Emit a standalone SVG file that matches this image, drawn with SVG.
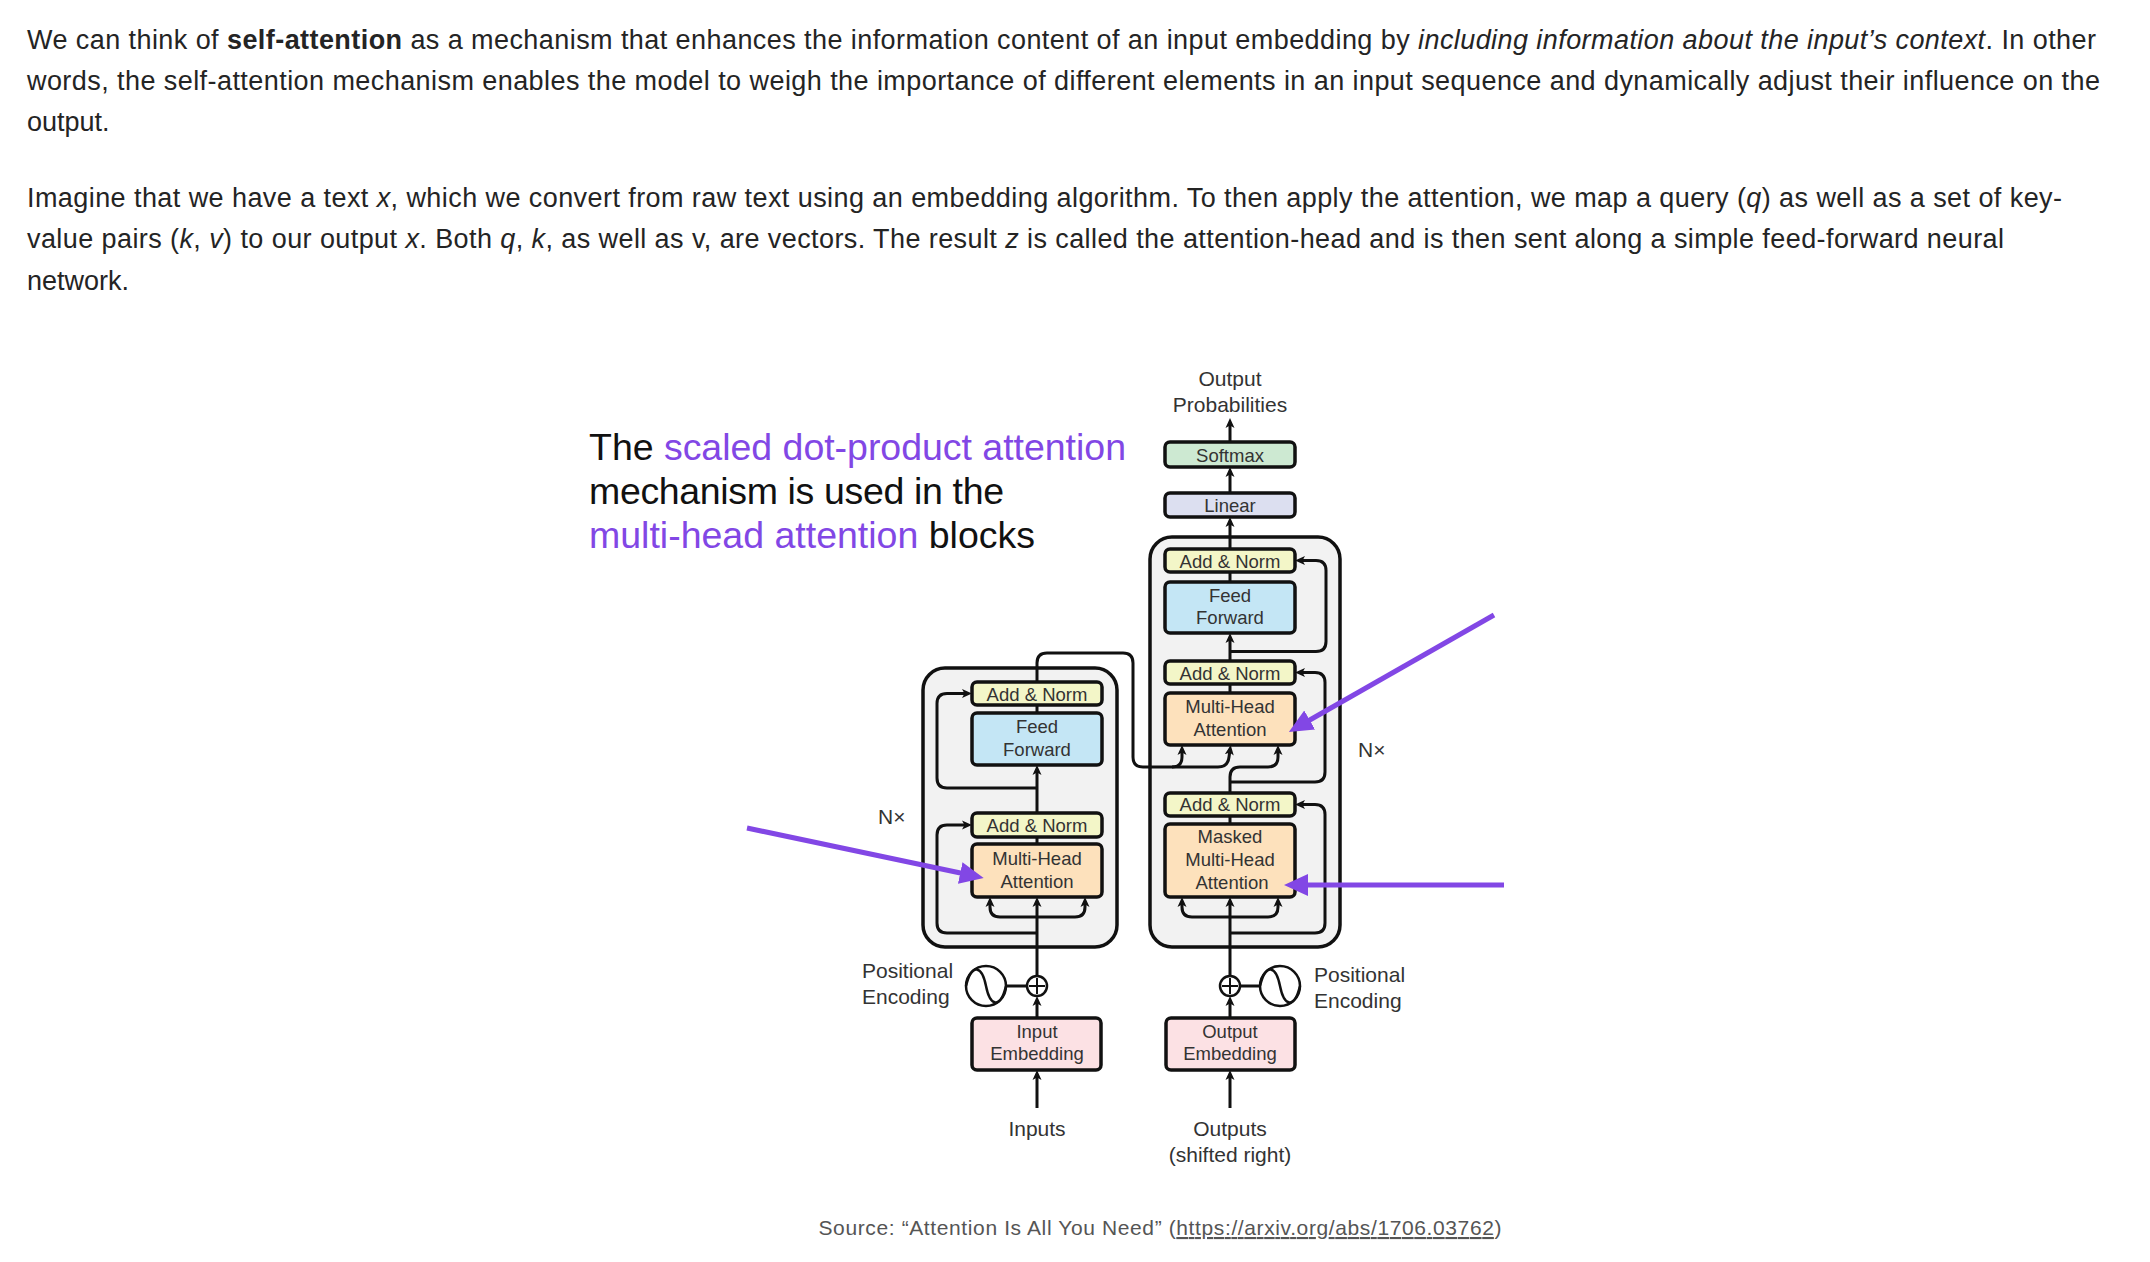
<svg xmlns="http://www.w3.org/2000/svg" width="2150" height="1262" viewBox="0 0 2150 1262">
<defs>
<style>
.body{font-family:"Liberation Sans",Arial,sans-serif;font-size:27px;fill:#242424}
.b{font-weight:bold}
.i{font-style:italic}
.ann{font-family:"Liberation Sans",Arial,sans-serif;font-size:37.5px;fill:#111}
.pu{fill:#8247e5}
.box{stroke:#111;stroke-width:3.5}
.outer{fill:#f2f2f2;stroke:#111;stroke-width:3.5}
.an{fill:#f3f6c8}.ff{fill:#c4e6f5}.mh{fill:#fde1bc}.em{fill:#fce1e4}.sm{fill:#cde9d2}.li{fill:#dcdff0}
.bt{font-family:"Liberation Sans",Arial,sans-serif;font-size:18.5px;fill:#333;text-anchor:middle}
.lb{font-family:"Liberation Sans",Arial,sans-serif;font-size:21px;fill:#333}
.c{text-anchor:middle}
.ln{fill:none;stroke:#111;stroke-width:3;stroke-linejoin:round}
.pa{fill:none;stroke:#8247e5;stroke-width:5}
.src{font-family:"Liberation Sans",Arial,sans-serif;font-size:21px;fill:#555;text-anchor:middle}
</style>
<marker id="ah" viewBox="0 0 10 10" refX="5" refY="5" markerWidth="10" markerHeight="10" markerUnits="userSpaceOnUse" orient="auto">
<path d="M0,0.5 L10,5 L0,9.5 L2.5,5 z" fill="#111"/>
</marker>
<marker id="ph" viewBox="0 0 24 24" refX="10" refY="12" markerWidth="24" markerHeight="24" markerUnits="userSpaceOnUse" orient="auto">
<path d="M0,1 L24,12 L0,23 z" fill="#8247e5"/>
</marker>
</defs>
<rect width="2150" height="1262" fill="#fff"/>

<g id="paragraph1">
<text class="body" x="27" y="49" textLength="2069" lengthAdjust="spacing">We can think of <tspan class="b">self-attention</tspan> as a mechanism that enhances the information content of an input embedding by <tspan class="i">including information about the input’s context</tspan>. In other</text>
<text class="body" x="27" y="90" textLength="2073" lengthAdjust="spacing">words, the self-attention mechanism enables the model to weigh the importance of different elements in an input sequence and dynamically adjust their influence on the</text>
<text class="body" x="27" y="131">output.</text>
</g>
<g id="paragraph2">
<text class="body" x="27" y="207" textLength="2035" lengthAdjust="spacing">Imagine that we have a text <tspan class="i">x</tspan>, which we convert from raw text using an embedding algorithm. To then apply the attention, we map a query (<tspan class="i">q</tspan>) as well as a set of key-</text>
<text class="body" x="27" y="248" textLength="1977" lengthAdjust="spacing">value pairs (<tspan class="i">k</tspan>, <tspan class="i">v</tspan>) to our output <tspan class="i">x</tspan>. Both <tspan class="i">q</tspan>, <tspan class="i">k</tspan>, as well as v, are vectors. The result <tspan class="i">z</tspan> is called the attention-head and is then sent along a simple feed-forward neural</text>
<text class="body" x="27" y="290">network.</text>
</g>

<g id="annotation">
<text class="ann" x="589" y="460" textLength="537" lengthAdjust="spacing">The <tspan class="pu">scaled dot-product attention</tspan></text>
<text class="ann" x="589" y="504" textLength="415" lengthAdjust="spacing">mechanism is used in the</text>
<text class="ann" x="589" y="548" textLength="446" lengthAdjust="spacing"><tspan class="pu">multi-head attention</tspan> blocks</text>
</g>

<g id="encoder-stack">
<rect class="outer" x="923" y="668" width="194" height="279" rx="22"/>
</g>
<g id="decoder-stack">
<rect class="outer" x="1150" y="537" width="190" height="410" rx="22"/>
</g>

<g id="connectors">
<path class="ln" d="M1230,442 L1230,423" marker-end="url(#ah)"/>
<path class="ln" d="M1230,493 L1230,472" marker-end="url(#ah)"/>
<path class="ln" d="M1230,549 L1230,522" marker-end="url(#ah)"/>
<path class="ln" d="M1230,572 L1230,582"/>
<path class="ln" d="M1230,661 L1230,638" marker-end="url(#ah)"/>
<path class="ln" d="M1230,651.5 L1316,651.5 Q1326,651.5 1326,641.5 L1326,570.5 Q1326,560.5 1316,560.5 L1300,560.5" marker-end="url(#ah)"/>
<path class="ln" d="M1230,684 L1230,693"/>
<path class="ln" d="M1230,782 L1315,782 Q1325,782 1325,772 L1325,682.5 Q1325,672.5 1315,672.5 L1300,672.5" marker-end="url(#ah)"/>
<path class="ln" d="M1230,793 L1230,777 Q1230,767 1240,767 L1268,767 Q1278,767 1278,757 L1278,750" marker-end="url(#ah)"/>
<path class="ln" d="M1037,682 L1037,663 Q1037,653 1047,653 L1123,653 Q1133,653 1133,663 L1133,757 Q1133,767 1143,767 L1172,767 Q1182,767 1182,757 L1182,750" marker-end="url(#ah)"/>
<path class="ln" d="M1172,767 L1218,767 Q1228,767 1229,757 L1230,750" marker-end="url(#ah)"/>
<path class="ln" d="M1230,816 L1230,824"/>
<path class="ln" d="M1230,933 L1315,933 Q1325,933 1325,923 L1325,814.5 Q1325,804.5 1315,804.5 L1300,804.5" marker-end="url(#ah)"/>
<path class="ln" d="M1230,976 L1230,902" marker-end="url(#ah)"/>
<path class="ln" d="M1230,917 L1192,917 Q1182,917 1182,907 L1182,902" marker-end="url(#ah)"/>
<path class="ln" d="M1230,917 L1268,917 Q1278,917 1278,907 L1278,902" marker-end="url(#ah)"/>
<path class="ln" d="M1230,1018 L1230,1001" marker-end="url(#ah)"/>
<path class="ln" d="M1230,1108 L1230,1075" marker-end="url(#ah)"/>
<path class="ln" d="M1240,986 L1260,986"/>
<path class="ln" d="M1037,976 L1037,902" marker-end="url(#ah)"/>
<path class="ln" d="M1037,917 L1000,917 Q990,917 990,907 L990,902" marker-end="url(#ah)"/>
<path class="ln" d="M1037,917 L1075,917 Q1085,917 1085,907 L1085,902" marker-end="url(#ah)"/>
<path class="ln" d="M1037,933 L947,933 Q937,933 937,923 L937,835 Q937,825 947,825 L967,825" marker-end="url(#ah)"/>
<path class="ln" d="M1037,837 L1037,844"/>
<path class="ln" d="M1037,813 L1037,770" marker-end="url(#ah)"/>
<path class="ln" d="M1037,788 L947,788 Q937,788 937,778 L937,703.5 Q937,693.5 947,693.5 L967,693.5" marker-end="url(#ah)"/>
<path class="ln" d="M1037,705 L1037,713"/>
<path class="ln" d="M1037,1018 L1037,1001" marker-end="url(#ah)"/>
<path class="ln" d="M1037,1108 L1037,1075" marker-end="url(#ah)"/>
<path class="ln" d="M1006,986 L1027,986"/>
</g>

<g id="softmax"><rect class="box sm" x="1165" y="442" width="130" height="25" rx="5"/><text class="bt" x="1230" y="462">Softmax</text></g>
<g id="linear"><rect class="box li" x="1165" y="493" width="130" height="24" rx="5"/><text class="bt" x="1230" y="512">Linear</text></g>
<g id="dec-addnorm3"><rect class="box an" x="1165" y="549" width="130" height="23" rx="5"/><text class="bt" x="1230" y="568">Add &amp; Norm</text></g>
<g id="dec-feedforward"><rect class="box ff" x="1165" y="582" width="130" height="51" rx="5"/><text class="bt" x="1230" y="602">Feed</text><text class="bt" x="1230" y="624">Forward</text></g>
<g id="dec-addnorm2"><rect class="box an" x="1165" y="661" width="130" height="23" rx="5"/><text class="bt" x="1230" y="680">Add &amp; Norm</text></g>
<g id="dec-mha"><rect class="box mh" x="1165" y="693" width="130" height="52" rx="5"/><text class="bt" x="1230" y="713">Multi-Head</text><text class="bt" x="1230" y="736">Attention</text></g>
<g id="dec-addnorm1"><rect class="box an" x="1165" y="793" width="130" height="23" rx="5"/><text class="bt" x="1230" y="811">Add &amp; Norm</text></g>
<g id="dec-masked-mha"><rect class="box mh" x="1165" y="824" width="130" height="73" rx="5"/><text class="bt" x="1230" y="843">Masked</text><text class="bt" x="1230" y="866">Multi-Head</text><text class="bt" x="1232" y="889">Attention</text></g>
<g id="output-embedding"><rect class="box em" x="1166" y="1018" width="129" height="52" rx="5"/><text class="bt" x="1230" y="1038">Output</text><text class="bt" x="1230" y="1060">Embedding</text></g>

<g id="enc-addnorm2"><rect class="box an" x="972" y="682" width="130" height="23" rx="5"/><text class="bt" x="1037" y="701">Add &amp; Norm</text></g>
<g id="enc-feedforward"><rect class="box ff" x="972" y="713" width="130" height="52" rx="5"/><text class="bt" x="1037" y="733">Feed</text><text class="bt" x="1037" y="756">Forward</text></g>
<g id="enc-addnorm1"><rect class="box an" x="972" y="813" width="130" height="24" rx="5"/><text class="bt" x="1037" y="832">Add &amp; Norm</text></g>
<g id="enc-mha"><rect class="box mh" x="972" y="844" width="130" height="53" rx="5"/><text class="bt" x="1037" y="865">Multi-Head</text><text class="bt" x="1037" y="888">Attention</text></g>
<g id="input-embedding"><rect class="box em" x="972" y="1018" width="129" height="52" rx="5"/><text class="bt" x="1037" y="1038">Input</text><text class="bt" x="1037" y="1060">Embedding</text></g>

<g id="enc-positional-encoding">
<circle cx="986" cy="986" r="20" fill="#fff" stroke="#111" stroke-width="2.5"/>
<path d="M966,986 C972,962 982,966 986,986 C990,1006 1000,1010 1006,986" fill="none" stroke="#111" stroke-width="2.5"/>
<circle cx="1037" cy="986" r="10" fill="#fff" stroke="#111" stroke-width="2.5"/>
<path d="M1029,986 L1045,986 M1037,978 L1037,994" stroke="#111" stroke-width="2"/>
<text class="lb" x="862" y="978">Positional</text><text class="lb" x="862" y="1004">Encoding</text>
</g>
<g id="dec-positional-encoding">
<circle cx="1280" cy="986" r="20" fill="#fff" stroke="#111" stroke-width="2.5"/>
<path d="M1260,986 C1266,962 1276,966 1280,986 C1284,1006 1294,1010 1300,986" fill="none" stroke="#111" stroke-width="2.5"/>
<circle cx="1230" cy="986" r="10" fill="#fff" stroke="#111" stroke-width="2.5"/>
<path d="M1222,986 L1238,986 M1230,978 L1230,994" stroke="#111" stroke-width="2"/>
<text class="lb" x="1314" y="982">Positional</text><text class="lb" x="1314" y="1008">Encoding</text>
</g>

<g id="labels">
<text class="lb c" x="1230" y="386">Output</text>
<text class="lb c" x="1230" y="412">Probabilities</text>
<text class="lb" x="878" y="824">N×</text>
<text class="lb" x="1358" y="757">N×</text>
<text class="lb c" x="1037" y="1136">Inputs</text>
<text class="lb c" x="1230" y="1136">Outputs</text>
<text class="lb c" x="1230" y="1162">(shifted right)</text>
</g>

<g id="purple-arrows">
<path class="pa" d="M1494,615 L1301,725" marker-end="url(#ph)"/>
<path class="pa" d="M747,828 L970,875" marker-end="url(#ph)"/>
<path class="pa" d="M1504,885 L1298,885" marker-end="url(#ph)"/>
</g>

<g id="source">
<text class="src" x="1160" y="1235" textLength="683" lengthAdjust="spacing">Source: “Attention Is All You Need” (<tspan style="text-decoration:underline">https://arxiv.org/abs/1706.03762</tspan>)</text>
</g>
</svg>
